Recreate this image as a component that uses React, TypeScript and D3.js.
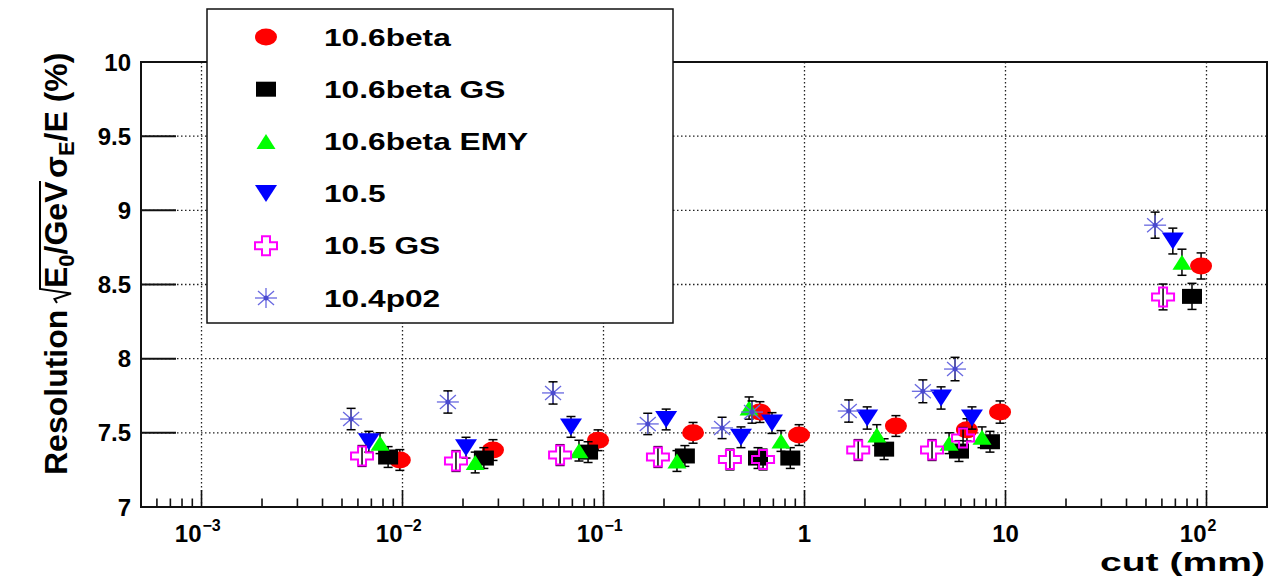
import React from 'react';
import * as d3 from 'd3';

// cut values (mm) and resolution (%) per release
const cut106beta = [0.0097, 0.0282, 0.094, 0.279, 0.6, 0.94, 2.85, 6.43, 9.4, 94];
const res106beta = [7.317, 7.384, 7.45, 7.5, 7.64, 7.485, 7.546, 7.52, 7.64, 8.625];
const err106beta = [0.07, 0.07, 0.07, 0.07, 0.07, 0.07, 0.07, 0.075, 0.075, 0.088];

const cut106betaGS = [0.00848, 0.0254, 0.0838, 0.254, 0.587, 0.85, 2.49, 5.87, 8.37, 84.7];
const res106betaGS = [7.337, 7.33, 7.37, 7.344, 7.33, 7.33, 7.39, 7.377, 7.44, 8.42];
const err106betaGS = [0.07, 0.07, 0.07, 0.07, 0.07, 0.07, 0.07, 0.07, 0.07, 0.088];

const cut106betaEMY = [0.00773, 0.023, 0.0755, 0.232, 0.53, 0.764, 2.29, 5.24, 7.64, 75.5];
const res106betaEMY = [7.43, 7.3, 7.38, 7.31, 7.667, 7.445, 7.485, 7.43, 7.47, 8.65];
const err106betaEMY = [0.07, 0.07, 0.07, 0.07, 0.075, 0.07, 0.07, 0.07, 0.07, 0.088];

const cut105 = [0.0068, 0.0207, 0.0689, 0.205, 0.483, 0.689, 2.05, 4.78, 6.81, 68];
const res105 = [7.44, 7.4, 7.54, 7.59, 7.47, 7.566, 7.6, 7.735, 7.6, 8.793];
const err105 = [0.07, 0.07, 0.07, 0.07, 0.07, 0.07, 0.075, 0.075, 0.075, 0.087];

const cut105GS = [0.00629, 0.01845, 0.0608, 0.1866, 0.4256, 0.622, 1.85, 4.31, 6.15, 60.8];
const res105GS = [7.344, 7.31, 7.35, 7.337, 7.32, 7.32, 7.384, 7.384, 7.465, 8.416];
const err105GS = [0.07, 0.07, 0.07, 0.07, 0.07, 0.07, 0.07, 0.07, 0.07, 0.087];

const cut104p02 = [0.00555, 0.01682, 0.0561, 0.166, 0.389, 0.548, 1.66, 3.88, 5.61, 55.5];
const res104p02 = [7.593, 7.708, 7.769, 7.56, 7.533, 7.64, 7.647, 7.78, 7.93, 8.9];
const err104p02 = [0.072, 0.075, 0.075, 0.072, 0.072, 0.075, 0.075, 0.077, 0.079, 0.088];

const series = [
  { name: '10.6beta', cut: cut106beta, res: res106beta, err: err106beta, shape: 'circle', color: '#ff0000' },
  { name: '10.6beta GS', cut: cut106betaGS, res: res106betaGS, err: err106betaGS, shape: 'square', color: '#000000' },
  { name: '10.6beta EMY', cut: cut106betaEMY, res: res106betaEMY, err: err106betaEMY, shape: 'triUp', color: '#00ff00' },
  { name: '10.5', cut: cut105, res: res105, err: err105, shape: 'triDown', color: '#0000ff' },
  { name: '10.5 GS', cut: cut105GS, res: res105GS, err: err105GS, shape: 'cross', color: '#ff00ff' },
  { name: '10.4p02', cut: cut104p02, res: res104p02, err: err104p02, shape: 'star', color: '#6868e0' },
];

const W = 1276;
const H = 578;
const frame = { left: 141, right: 1267, top: 62, bottom: 507 };
const FONT = "'Liberation Sans', Arial, Helvetica, sans-serif";

const xScale = d3.scaleLog().domain([5e-4, 200]).range([frame.left, frame.right]);
const yScale = d3.scaleLinear().domain([7, 10]).range([frame.bottom, frame.top]);

const Marker = ({ shape, cx, cy, color }) => {
  switch (shape) {
    case 'circle':
      return <ellipse cx={cx} cy={cy} rx={11} ry={8.5} fill={color} />;
    case 'square':
      return <rect x={cx - 10} y={cy - 7.5} width={20} height={15} fill={color} />;
    case 'triUp':
      return <polygon points={`${cx - 9.5},${cy + 7.5} ${cx + 9.5},${cy + 7.5} ${cx},${cy - 7.5}`} fill={color} />;
    case 'triDown':
      return <polygon points={`${cx - 11},${cy - 8.5} ${cx + 11},${cy - 8.5} ${cx},${cy + 8.5}`} fill={color} />;
    case 'cross': {
      const a = 11, b = 9.5, t1 = 4, t2 = 3.5;
      const d = `M${cx - t1},${cy - b}H${cx + t1}V${cy - t2}H${cx + a}V${cy + t2}H${cx + t1}V${cy + b}H${cx - t1}V${cy + t2}H${cx - a}V${cy - t2}H${cx - t1}Z`;
      return <path d={d} fill="none" stroke={color} strokeWidth={2} />;
    }
    case 'star':
      return (
        <g stroke={color} strokeWidth={1.3}>
          <line x1={cx - 11} y1={cy} x2={cx + 11} y2={cy} />
          <line x1={cx} y1={cy - 10} x2={cx} y2={cy + 10} />
          <line x1={cx - 8} y1={cy - 7} x2={cx + 8} y2={cy + 7} />
          <line x1={cx - 8} y1={cy + 7} x2={cx + 8} y2={cy - 7} />
          <circle cx={cx} cy={cy} r={2.5} fill="#4a4ad0" stroke="none" />
        </g>
      );
    default:
      return null;
  }
};

const App = () => {
  const xTicks = xScale.ticks();
  const isMajor = (v) => Math.abs(Math.log10(v) - Math.round(Math.log10(v))) < 1e-6;
  const decades = xTicks.filter(isMajor);
  const yTicks = yScale.ticks(6);

  const legend = { x: 207, y: 9, w: 466, h: 314, markerX: 266, textX: 324, row0: 37, rowStep: 52.2 };

  return (
    <svg width={W} height={H} style={{ position: 'absolute', left: 0, top: 0, background: '#fff' }} fontFamily={FONT}>
      {/* grid */}
      <g stroke="#222" strokeWidth={1.3} strokeDasharray="1.5 2.5">
        {decades.map((v) => (
          <line key={`gx${v}`} x1={xScale(v)} x2={xScale(v)} y1={frame.top} y2={frame.bottom} />
        ))}
        {yTicks.filter((v) => v > 7 && v < 10).map((v) => (
          <line key={`gy${v}`} x1={frame.left} x2={frame.right} y1={yScale(v)} y2={yScale(v)} />
        ))}
      </g>

      {/* data: error bars under markers, series by series */}
      {series.map((s) => (
        <g key={s.name}>
          {s.cut.map((c, i) => {
            const cx = xScale(c);
            const y1 = yScale(s.res[i] - s.err[i]);
            const y2 = yScale(s.res[i] + s.err[i]);
            return (
              <g key={`e${i}`} stroke="#000" strokeWidth={1.5}>
                <line x1={cx} x2={cx} y1={y1} y2={y2} />
                <line x1={cx - 4.5} x2={cx + 4.5} y1={y1} y2={y1} />
                <line x1={cx - 4.5} x2={cx + 4.5} y1={y2} y2={y2} />
              </g>
            );
          })}
          {s.cut.map((c, i) => (
            <Marker key={`m${i}`} shape={s.shape} cx={xScale(c)} cy={yScale(s.res[i])} color={s.color} />
          ))}
        </g>
      ))}

      {/* frame */}
      <rect x={frame.left} y={frame.top} width={frame.right - frame.left} height={frame.bottom - frame.top}
        fill="none" stroke="#111" strokeWidth={2} />

      {/* y axis ticks & labels */}
      <g>
        {yTicks.map((v) => (
          <g key={`yt${v}`}>
            <line x1={frame.left} x2={frame.left + 35} y1={yScale(v)} y2={yScale(v)} stroke="#111" strokeWidth={2} />
            <text x={131} y={yScale(v) + 8.5} textAnchor="end" fontSize={24} fontWeight="bold">
              {d3.format('~g')(v)}
            </text>
          </g>
        ))}
      </g>

      {/* x axis ticks & labels */}
      <g>
        {xTicks.map((v) => (
          <line key={`xt${v}`} x1={xScale(v)} x2={xScale(v)} y1={frame.bottom}
            y2={frame.bottom - (isMajor(v) ? 17 : 8.5)} stroke="#111" strokeWidth={1.6} />
        ))}
        {decades.map((v) => {
          const e = Math.round(Math.log10(v));
          const px = xScale(v);
          if (e === 0 || e === 1) {
            return (
              <text key={`xl${v}`} x={px} y={542} textAnchor="middle" fontSize={24} fontWeight="bold">{e === 0 ? '1' : '10'}</text>
            );
          }
          return (
            <g key={`xl${v}`} fontWeight="bold">
              <text x={px} y={542} textAnchor="end" fontSize={24}>10</text>
              <text x={px + 1} y={531} textAnchor="start" fontSize={16}>{e < 0 ? `\u2212${-e}` : `${e}`}</text>
            </g>
          );
        })}
      </g>

      {/* axis titles */}
      <text x={0} y={0} transform="translate(1265,571)" textAnchor="end" fontSize={26} fontWeight="bold"
        textLength={165} lengthAdjust="spacingAndGlyphs">cut (mm)</text>

      <g transform="translate(67,475) rotate(-90)" fontWeight="bold">
        <text x={0} y={0} fontSize={32}>
          Resolution
          <tspan x={187}>E</tspan>
          <tspan dy={7} fontSize={22}>0</tspan>
          <tspan dy={-7}>/GeV</tspan>
          <tspan x={297}>σ</tspan>
          <tspan dy={7} fontSize={22}>E</tspan>
          <tspan dy={-7}>/E (%)</tspan>
        </text>
        <path d="M172,-10 L176,-12.5 L181.5,4 L186,-27 L294,-27" fill="none" stroke="#000" strokeWidth={2} />
      </g>

      {/* legend */}
      <rect x={legend.x} y={legend.y} width={legend.w} height={legend.h} fill="#fff" stroke="#111" strokeWidth={1.5} />
      {series.map((s, i) => {
        const cy = legend.row0 + i * legend.rowStep;
        return (
          <g key={`lg${s.name}`}>
            <Marker shape={s.shape} cx={legend.markerX} cy={cy} color={s.color} />
            <text transform={`translate(${legend.textX},${cy + 8.5}) scale(1.32,1)`} fontSize={24} fontWeight="bold">
              {s.name}
            </text>
          </g>
        );
      })}
    </svg>
  );
};

export default App;
